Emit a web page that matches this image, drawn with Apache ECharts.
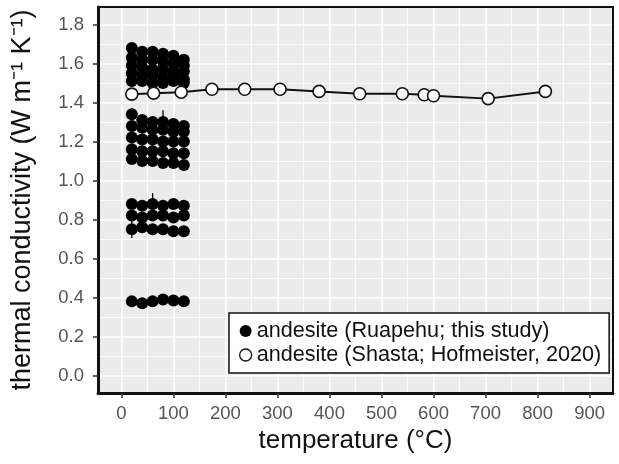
<!DOCTYPE html>
<html>
<head>
<meta charset="utf-8">
<script src="https://cdn.jsdelivr.net/npm/echarts@6/dist/echarts.min.js"></script>
<style>html,body{margin:0;padding:0;background:#fff}#c{width:619px;height:464px}</style>
</head>
<body>
<div id="c"></div>
<script>
// ---- data ----
const xTicks = [0, 100, 200, 300, 400, 500, 600, 700, 800, 900];
const yTicks = [0, 0.2, 0.4, 0.6, 0.8, 1.0, 1.2, 1.4, 1.6, 1.8];

const ruapehuName = 'andesite (Ruapehu; this study)';
const shastaName = 'andesite (Shasta; Hofmeister, 2020)';

const ruapehuTemps = [20, 40, 60, 80, 100, 120];
const ruapehuS1  = [1.68, 1.66, 1.66, 1.65, 1.64, 1.62];
const ruapehuS2  = [1.63, 1.62, 1.62, 1.61, 1.60, 1.59];
const ruapehuS3  = [1.59, 1.58, 1.57, 1.57, 1.56, 1.56];
const ruapehuS4  = [1.55, 1.54, 1.54, 1.53, 1.53, 1.52];
const ruapehuS5  = [1.51, 1.51, 1.50, 1.50, 1.51, 1.50];
const ruapehuS6  = [1.34, 1.31, 1.30, 1.30, 1.29, 1.28];
const ruapehuS7  = [1.28, 1.27, 1.26, 1.26, 1.25, 1.25];
const ruapehuS8  = [1.22, 1.21, 1.21, 1.20, 1.20, 1.20];
const ruapehuS9  = [1.16, 1.15, 1.15, 1.15, 1.14, 1.14];
const ruapehuS10 = [1.11, 1.10, 1.10, 1.09, 1.09, 1.08];
const ruapehuS11 = [0.88, 0.87, 0.88, 0.87, 0.88, 0.87];
const ruapehuS12 = [0.82, 0.81, 0.82, 0.82, 0.81, 0.82];
const ruapehuS13 = [0.75, 0.76, 0.75, 0.75, 0.74, 0.74];
const ruapehuS14 = [0.38, 0.37, 0.38, 0.39, 0.385, 0.38];
const ruapehuSamples = [ruapehuS1, ruapehuS2, ruapehuS3, ruapehuS4, ruapehuS5, ruapehuS6,
  ruapehuS7, ruapehuS8, ruapehuS9, ruapehuS10, ruapehuS11, ruapehuS12, ruapehuS13, ruapehuS14];
// one-sigma uncertainties (same order as samples)
const ruapehuErrors = [
  [0.02, 0.02, 0.03, 0.02, 0.02, 0.02],
  [0.02, 0.02, 0.02, 0.02, 0.02, 0.02],
  [0.02, 0.03, 0.02, 0.02, 0.02, 0.02],
  [0.02, 0.02, 0.02, 0.02, 0.02, 0.02],
  [0.02, 0.02, 0.02, 0.02, 0.02, 0.02],
  [0.03, 0.02, 0.02, 0.06, 0.02, 0.02],
  [0.02, 0.02, 0.03, 0.02, 0.02, 0.02],
  [0.02, 0.02, 0.02, 0.02, 0.02, 0.02],
  [0.02, 0.02, 0.02, 0.02, 0.02, 0.02],
  [0.02, 0.02, 0.02, 0.02, 0.02, 0.02],
  [0.02, 0.02, 0.055, 0.02, 0.02, 0.02],
  [0.02, 0.02, 0.02, 0.02, 0.02, 0.02],
  [0.045, 0.02, 0.02, 0.02, 0.02, 0.02],
  [0.01, 0.01, 0.01, 0.01, 0.01, 0.01]
];

const shastaTemps = [20, 62, 115, 174, 237, 305, 380, 458, 540, 582, 600, 705, 815];
const shastaK     = [1.443, 1.448, 1.453, 1.468, 1.468, 1.468, 1.457, 1.445, 1.445, 1.44, 1.435, 1.42, 1.457];

// ---- chart ----
const chart = echarts.init(document.getElementById('c'), null, {renderer: 'canvas'});
const FONT = 'Liberation Sans, Arial, Helvetica, sans-serif';

const series = [];
// error bars
const errData = [];
ruapehuSamples.forEach((s, j) => s.forEach((v, i) => errData.push([ruapehuTemps[i], v, ruapehuErrors[j][i]])));
series.push({
  type: 'custom', name: ruapehuName, data: errData, z: 2,
  renderItem: function (params, api) {
    const x = api.value(0), y = api.value(1), e = api.value(2);
    const p1 = api.coord([x, y - e]), p2 = api.coord([x, y + e]);
    return {type: 'line', shape: {x1: p1[0], y1: p1[1], x2: p2[0], y2: p2[1]},
      style: {stroke: '#000', lineWidth: 1.3}};
  }
});
ruapehuSamples.forEach(s => {
  series.push({
    type: 'scatter', name: ruapehuName, z: 3,
    data: ruapehuTemps.map((t, i) => [t, s[i]]),
    symbol: 'circle', symbolSize: 12,
    itemStyle: {color: '#000', opacity: 1}
  });
});
series.push({
  type: 'line', name: shastaName, z: 4,
  data: shastaTemps.map((t, i) => [t, shastaK[i]]),
  symbol: 'circle', symbolSize: 12, showAllSymbol: true,
  lineStyle: {color: '#111', width: 2},
  itemStyle: {color: '#fff', borderColor: '#111', borderWidth: 1.6}
});

const axisCommon = {
  type: 'value',
  splitNumber: 10,
  axisLine: {show: true, onZero: false, lineStyle: {color: '#111', width: 3}},
  splitLine: {show: true, lineStyle: {color: '#fff', width: 1.6}},
  minorTick: {show: false, splitNumber: 2},
  minorSplitLine: {show: true, lineStyle: {color: '#fff', width: 0.8}}
};

const option = {
  animation: false,
  backgroundColor: '#fff',
  grid: {left: 98, right: 6, top: 7, bottom: 71, containLabel: false, outerBoundsMode: 'none',
    show: true, backgroundColor: '#EBEBEB', borderWidth: 0},
  xAxis: [
    Object.assign({}, axisCommon, {
      min: -45, max: 945, minInterval: 100, maxInterval: 100,
      position: 'bottom',
      axisTick: {show: true, length: 5, customValues: xTicks, lineStyle: {color: '#333', width: 1.5}},
      axisLabel: {customValues: xTicks, margin: 11, color: '#555', fontSize: 18.5, fontFamily: FONT},
      name: 'temperature (°C)', nameLocation: 'middle', nameGap: 33,
      nameTextStyle: {fontSize: 26, color: '#111', fontFamily: FONT}
    }),
    {type: 'value', min: -45, max: 945, position: 'top', axisLine: {show: true, onZero: false, lineStyle: {color: '#111', width: 2}},
      axisTick: {show: false}, axisLabel: {show: false}, splitLine: {show: false}}
  ],
  yAxis: [
    Object.assign({}, axisCommon, {
      min: -0.09, max: 1.89, minInterval: 0.2, maxInterval: 0.2,
      position: 'left',
      axisTick: {show: true, length: 5, customValues: yTicks, lineStyle: {color: '#333', width: 1.5}},
      axisLabel: {customValues: yTicks, margin: 14, color: '#555', fontSize: 18.5, fontFamily: FONT,
        formatter: v => Number(v).toFixed(1)},
      name: 'thermal conductivity (W m⁻¹ K⁻¹)', nameLocation: 'middle', nameGap: 62,
      nameTextStyle: {fontSize: 27, color: '#111', fontFamily: FONT}
    }),
    {type: 'value', min: -0.09, max: 1.89, position: 'right', axisLine: {show: true, onZero: false, lineStyle: {color: '#111', width: 2}},
      axisTick: {show: false}, axisLabel: {show: false}, splitLine: {show: false}}
  ],
  legend: {
    left: 229, top: 313, orient: 'vertical',
    backgroundColor: '#fff', borderColor: '#111', borderWidth: 1.5, borderRadius: 0,
    padding: [7, 8, 7, 10], itemGap: 2, itemWidth: 12, itemHeight: 12,
    textStyle: {fontSize: 21.6, color: '#111', fontFamily: FONT, lineHeight: 22},
    data: [
      {name: ruapehuName, icon: 'circle', itemStyle: {color: '#000', borderWidth: 0}},
      {name: shastaName, icon: 'circle', itemStyle: {color: '#fff', borderColor: '#111', borderWidth: 1.3}}
    ]
  },
  series: series
};
chart.setOption(option);
</script>
</body>
</html>
